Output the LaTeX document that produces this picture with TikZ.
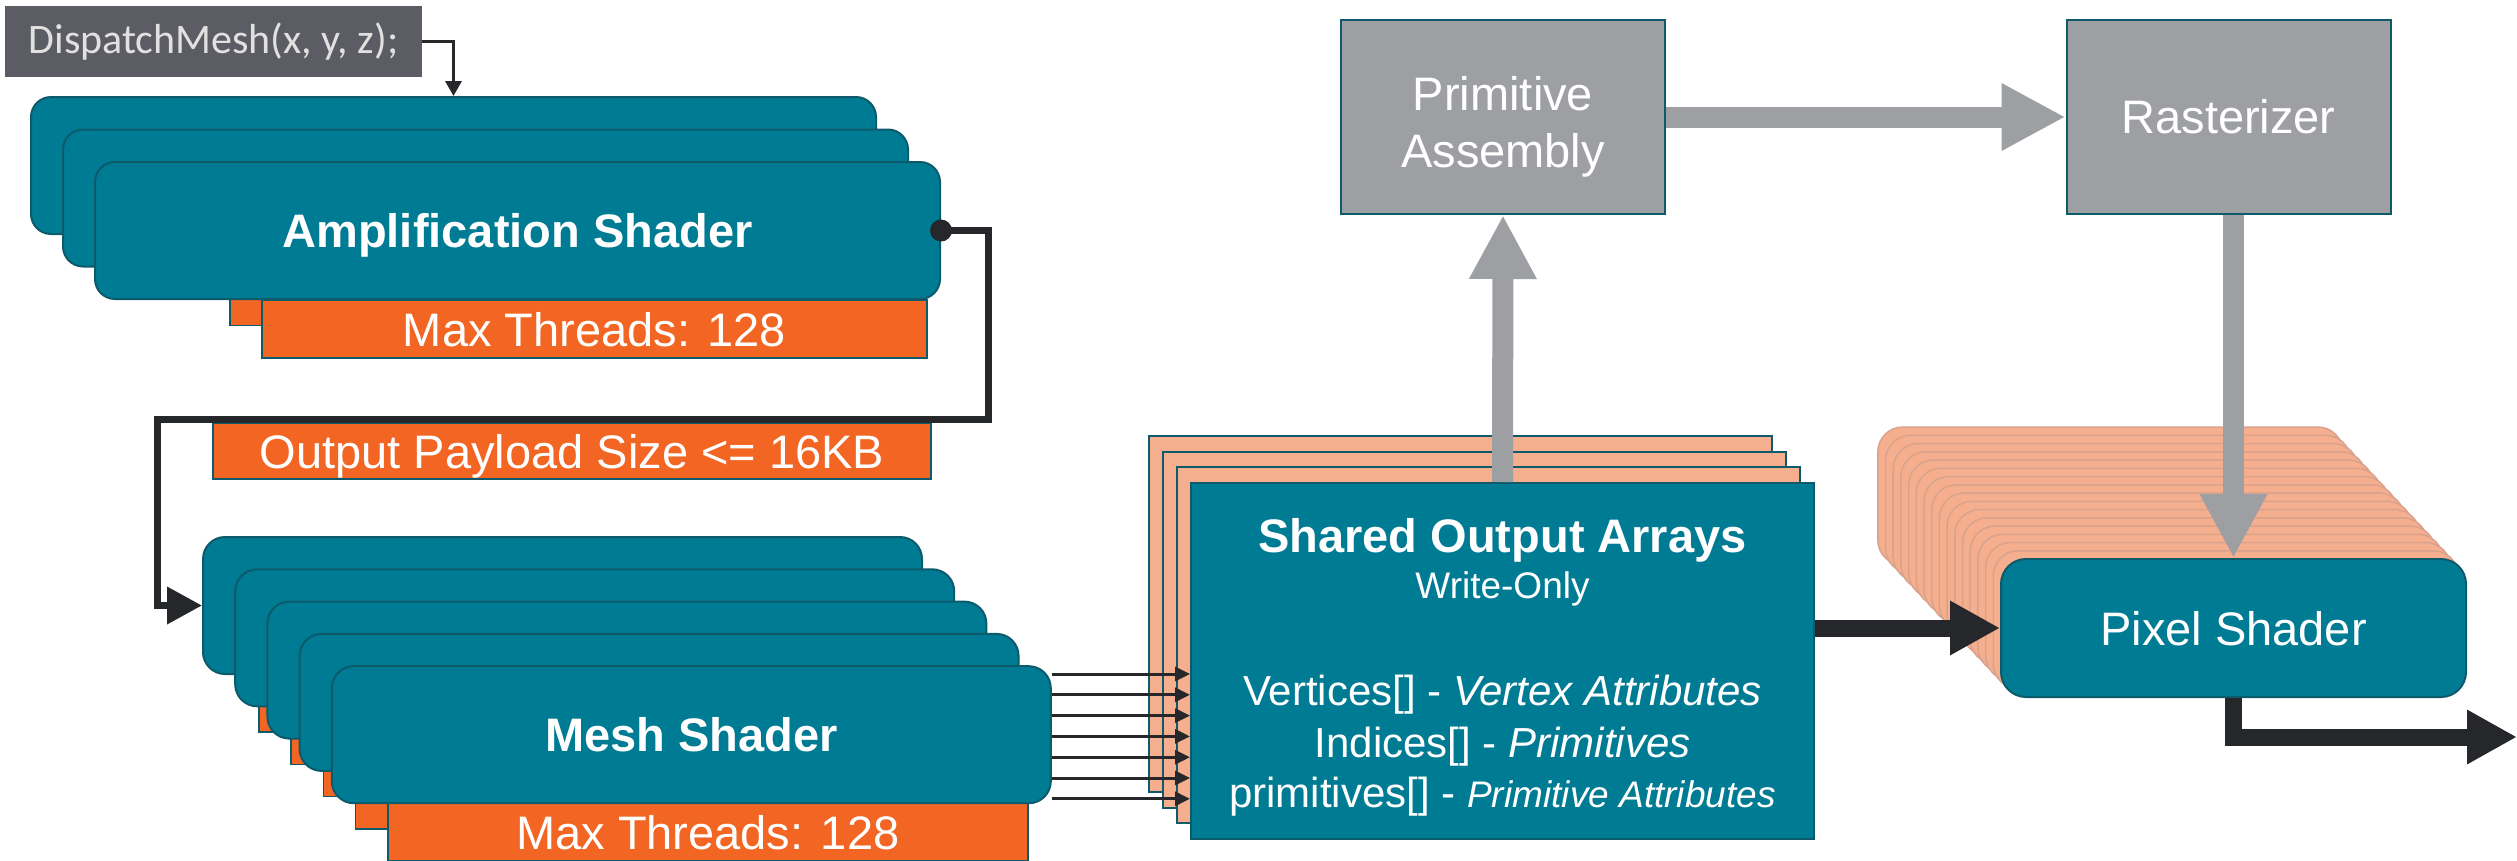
\documentclass[tikz,border=0pt]{standalone}
\usepackage{fontspec}
\setmainfont{Liberation Sans}
\newfontfamily\callfont{Carlito}
\usetikzlibrary{arrows.meta}

\definecolor{shaderteal}{HTML}{007B94}
\definecolor{shaderedge}{HTML}{0D5A6B}
\definecolor{limitorange}{HTML}{F26522}
\definecolor{arraysalmon}{HTML}{F6AF8E}
\definecolor{stackline}{HTML}{D8A28C}
\definecolor{fixedgray}{HTML}{9D9FA2}
\definecolor{callgray}{HTML}{5B5C64}
\definecolor{calltext}{HTML}{E1E1E1}
\definecolor{wire}{HTML}{26272B}

\newcommand\headsize{\fontsize{47}{57}\selectfont}
\newcommand\listsize{\fontsize{42}{50}\selectfont}
\newcommand\notesize{\fontsize{37}{44}\selectfont}

\tikzset{
  callbox/.style={fill=callgray, minimum width=417pt, minimum height=71pt, inner sep=0pt,
    text=calltext, font=\callfont\fontsize{42}{50}\selectfont},
  shader/.style={draw=shaderedge, line width=2pt, fill=shaderteal, rounded corners=20pt,
    inner sep=0pt, text=white, font=\headsize\bfseries, text height=34pt, text depth=0pt},
  ampbox/.style={shader, minimum width=845pt, minimum height=137pt},
  meshbox/.style={shader, minimum width=719pt, minimum height=137pt, rounded corners=22pt},
  limit/.style={draw=shaderedge, line width=1.5pt, fill=limitorange, inner sep=0pt,
    minimum height=58pt, text=white, font=\headsize, text height=34pt, text depth=0pt},
  arraylayer/.style={draw=shaderedge, line width=2pt, fill=arraysalmon,
    minimum width=623pt, minimum height=356pt, inner sep=0pt},
  arrayfront/.style={arraylayer, fill=shaderteal},
  arraytext/.style={text=white, inner sep=0pt, anchor=base},
  gate/.style={draw=shaderedge, line width=2pt, fill=fixedgray, minimum width=324pt,
    minimum height=194pt, inner sep=0pt, text=white, font=\headsize, align=center},
  pixellayer/.style={draw=stackline, line width=1.5pt, fill=arraysalmon, rounded corners=25pt,
    minimum width=465pt, minimum height=138pt},
  pixelbox/.style={shader, font=\headsize, rounded corners=25pt,
    minimum width=465pt, minimum height=138pt},
  callwire/.style={draw=wire, line width=3.3pt, -{Triangle[length=15pt,width=16pt]}},
  feedwire/.style={draw=wire, line width=3pt, -{Triangle[length=15pt,width=14pt]}},
  loopwire/.style={draw=wire, line width=7pt, -{Triangle[length=35pt,width=36pt]}},
  outwire/.style={draw=wire, line width=17pt, -{Triangle[length=50pt,width=51pt]}},
  fixedflow/.style={draw=fixedgray, line width=21pt, -{Triangle[length=64pt,width=63pt]}},
}

\begin{document}
\begin{tikzpicture}[x=1pt, y=-1pt]
  \useasboundingbox (0,0) rectangle (2517,860);

  \node[callbox] (dispatch) at (213.5,41.5) {DispatchMesh(x, y, z);};

  % amplification stage
  \foreach \k in {0,1} {
    \node[limit, minimum width=665pt] (amplimit\k) at (530.5+32*\k,264+32.5*\k) {};
    \node[ampbox] (amp\k) at (453.5+32*\k,165.5+32.5*\k) {};
  }
  \node[limit, minimum width=665pt] (amplimit2) at (594.5,329) {Max Threads: 128};
  \node[ampbox] (amp2) at (517.5,230.5) {Amplification Shader};

  \node[limit, minimum width=718pt, minimum height=56pt] (payload) at (572,451)
    {Output Payload Size <= 16KB};

  % mesh stage
  \foreach \k in {0,...,3} {
    \node[limit, minimum width=640pt] (meshlimit\k) at (579+32.2*\k,703+32.3*\k) {};
    \node[meshbox] (mesh\k) at (562.5+32.2*\k,605.5+32.3*\k) {};
  }
  \node[limit, minimum width=640pt] (meshlimit4) at (707.8,832.2) {Max Threads: 128};
  \node[meshbox] (mesh4) at (691.3,734.7) {Mesh Shader};

  % output arrays
  \foreach \k in {0,1,2}
    \node[arraylayer] (shared\k) at (1460.5+14*\k,614+15.7*\k) {};
  \node[arrayfront] (shared3) at (1502.5,661) {};
  \node[arraytext, font=\headsize\bfseries] (arraystitle) at (1502.5,552) {Shared Output Arrays};
  \node[arraytext, font=\notesize] (arraysmode) at (1502.5,598) {Write-Only};
  \node[arraytext, font=\listsize] (vertexline) at (1502.5,705)
    {Vertices[] -\ \textit{Vertex Attributes}};
  \node[arraytext, font=\listsize] (indexline) at (1502.5,757) {Indices[] - \textit{Primitives}};
  \node[arraytext, font=\listsize] (primline) at (1502.5,807)
    {primitives[] - {\notesize\itshape Primitive Attributes}};

  % fixed function
  \node[gate, text height=101pt, text depth=0pt] (pa) at (1503,117) {Primitive\\Assembly};
  \node[gate] (rast) at (2228.5,117) {Rasterizer};

  % pixel stage
  \foreach \k in {16,15,...,1}
    \node[pixellayer] (pixlayer\k) at (2233.5-7.7*\k,628-8.25*\k) {};
  \node[pixelbox] (pixel) at (2233.5,628) {Pixel Shader};

  % connectors
  \draw[callwire] (dispatch.east) -| (amp0.north);
  \fill[wire] (amp2.east) circle (11);
  \coordinate (loopback) at (157,419.5);
  \draw[loopwire] (amp2.east) -- ++(47,0) |- (loopback) |- (mesh0.west);
  \foreach \y in {0,...,6}
    \draw[feedwire] (mesh4.east |- 0,674+20.8*\y) -- (shared3.west |- 0,674+20.8*\y);
  \draw[fixedflow] (shared3.north) -- (pa.south);
  \draw[fixedflow] (pa.east) -- (rast.west);
  \draw[fixedflow] (rast.south -| pixel.north) -- (pixel.north);
  \draw[outwire] (shared3.east |- pixel.west) -- (pixel.west);
  \coordinate (out) at (2517,737);
  \draw[outwire] (pixel.south) |- (out);
\end{tikzpicture}
\end{document}
